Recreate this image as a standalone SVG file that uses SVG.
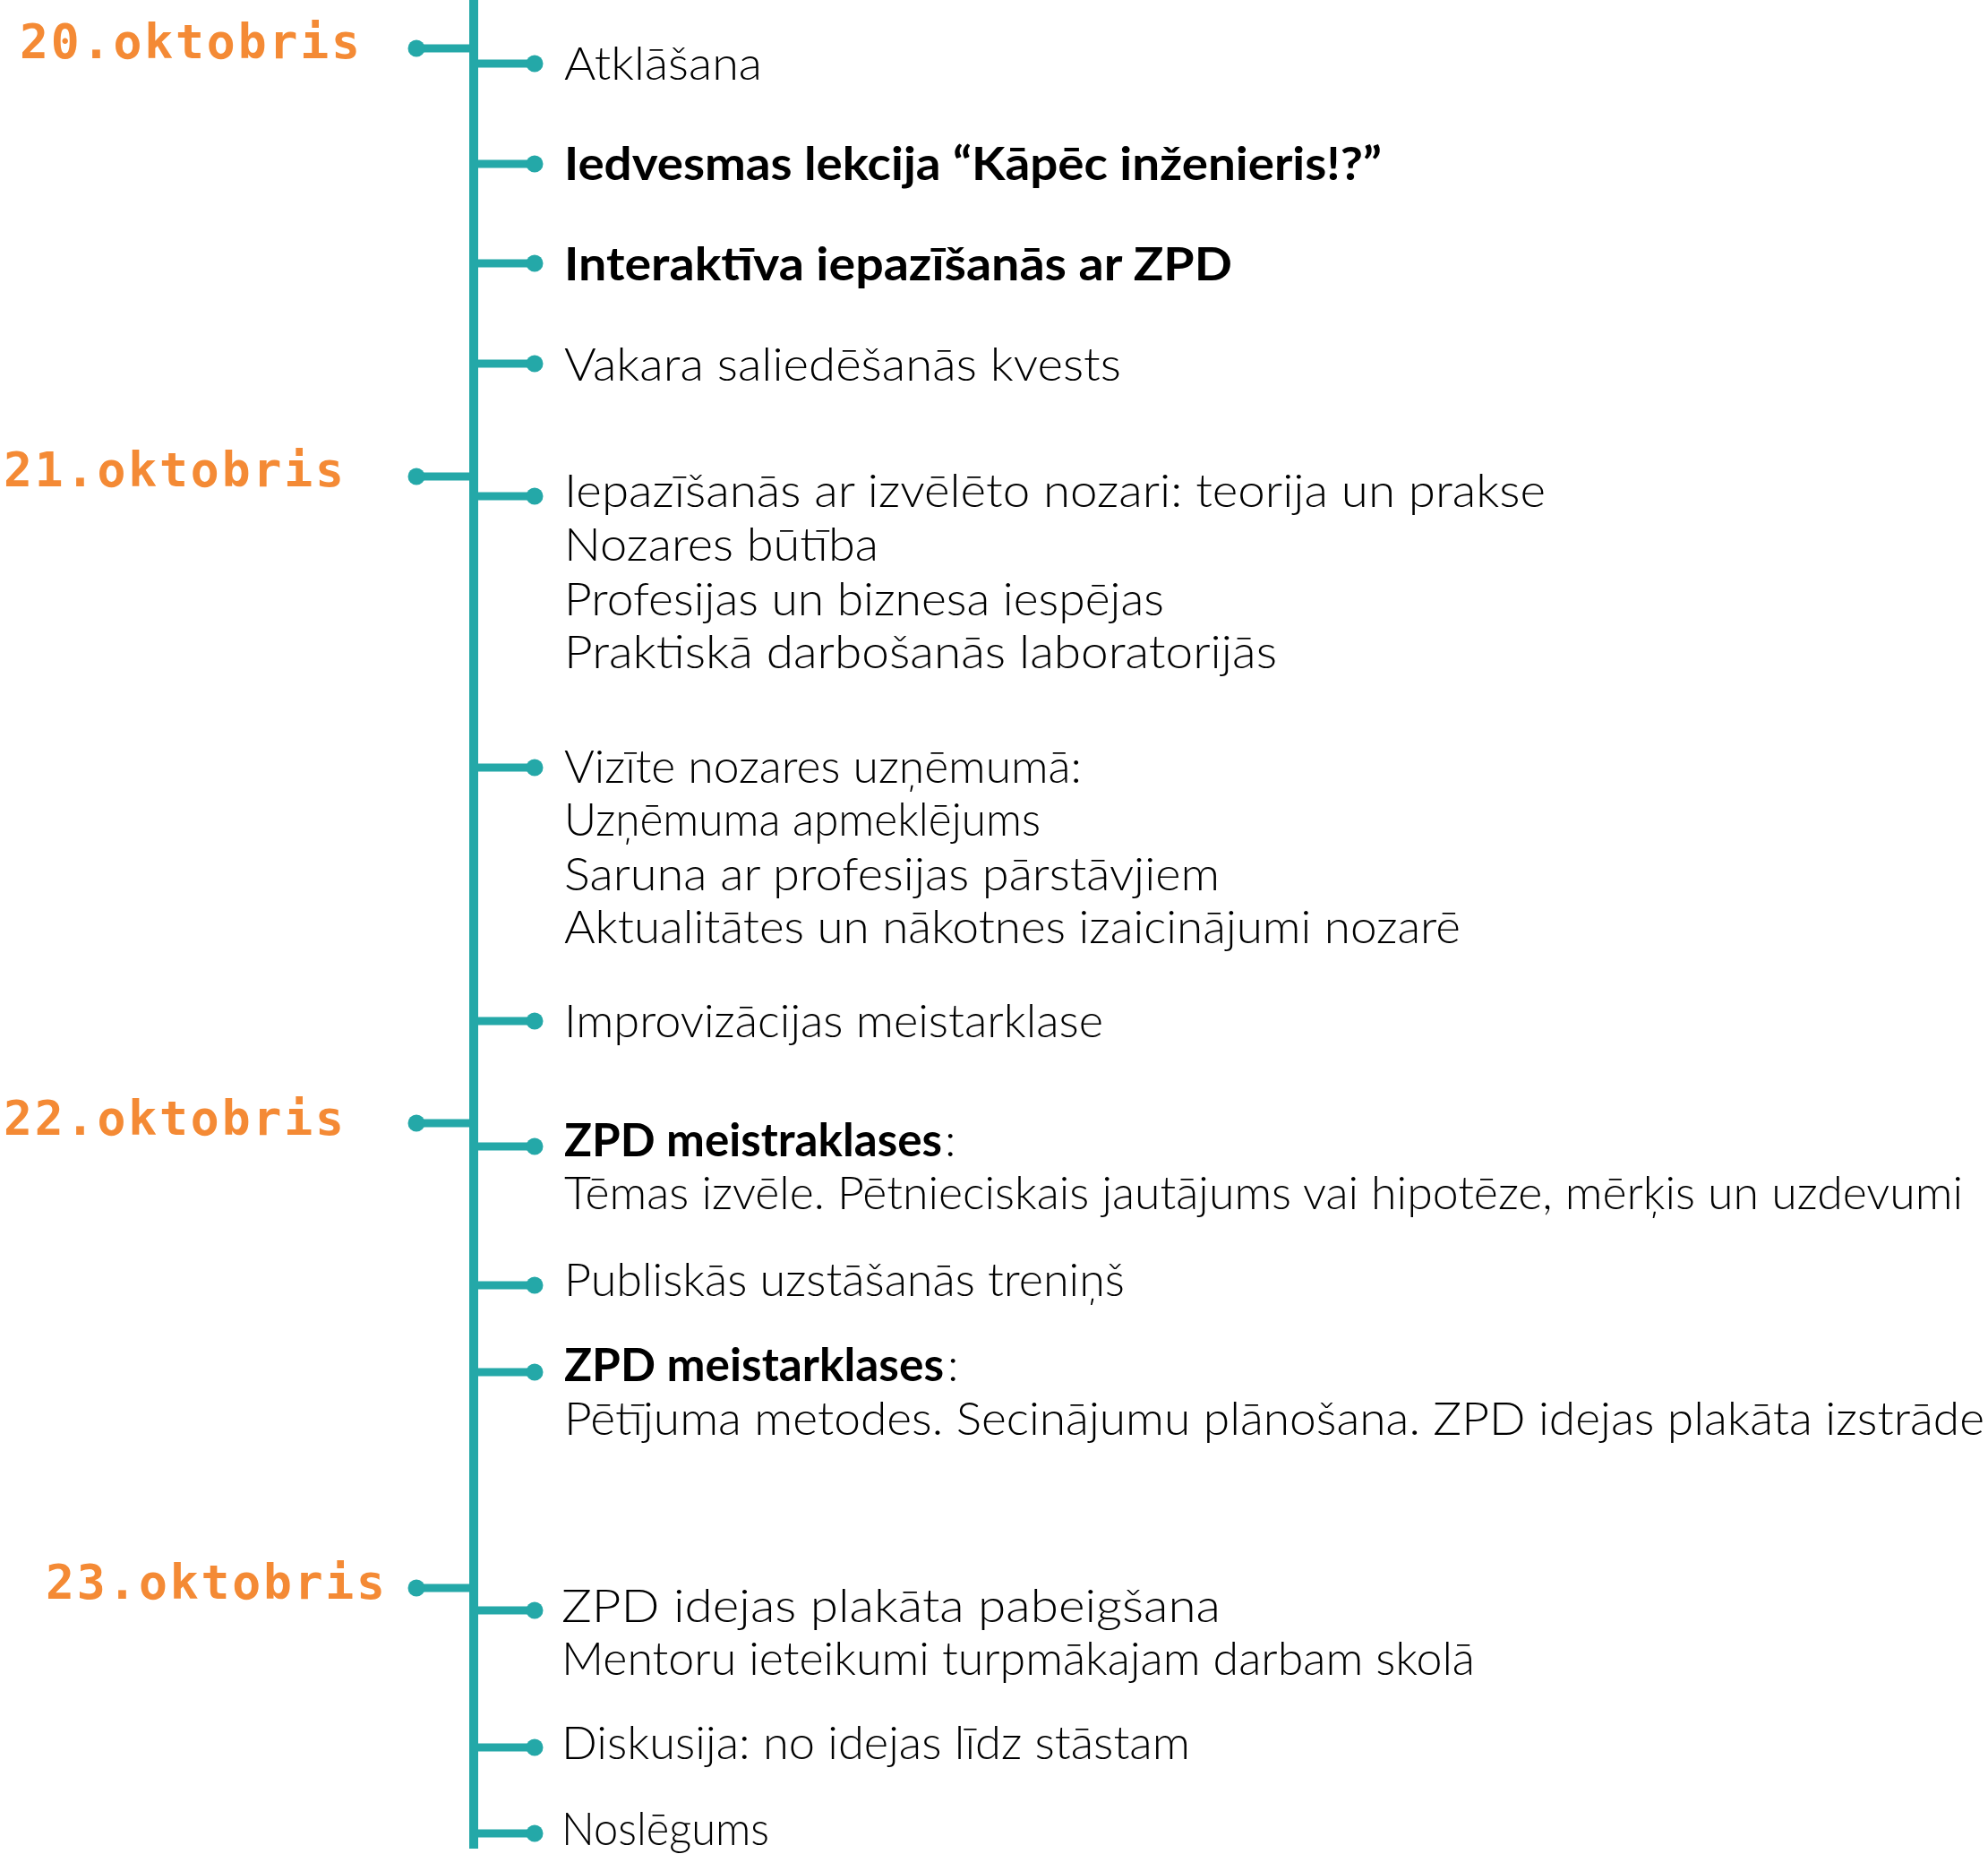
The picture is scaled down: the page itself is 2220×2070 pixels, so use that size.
<svg xmlns="http://www.w3.org/2000/svg" width="2220" height="2070" viewBox="0 0 2220 2070">
<style>
.date{font-family:"DejaVu Sans Mono","Liberation Mono",monospace;font-weight:bold;font-size:53px;fill:#F48A35}
.t{font-family:Lato,"Open Sans","Liberation Sans",sans-serif;font-weight:300;font-size:52px;fill:#000}
.b{font-weight:700}
.bar{stroke:#24A8A8;stroke-width:9;fill:none}
.dot{fill:#24A8A8}
</style>
<rect width="2220" height="2070" fill="#fff"/>
<g id="connectors">
<line class="bar" x1="529" y1="0" x2="529" y2="2064" style="stroke-width:10"/>
<g id="date-bars">
<line class="bar" x1="465" y1="54" x2="528" y2="54"/><circle class="dot" cx="465" cy="54" r="9.5"/>
<line class="bar" x1="465" y1="532" x2="528" y2="532"/><circle class="dot" cx="465" cy="532" r="9.5"/>
<line class="bar" x1="465" y1="1254" x2="528" y2="1254"/><circle class="dot" cx="465" cy="1254" r="9.5"/>
<line class="bar" x1="465" y1="1773" x2="528" y2="1773"/><circle class="dot" cx="465" cy="1773" r="9.5"/>
</g>
<g id="item-bars">
<line class="bar" x1="530" y1="71" x2="597" y2="71"/><circle class="dot" cx="597" cy="71" r="9.5"/>
<line class="bar" x1="530" y1="183" x2="597" y2="183"/><circle class="dot" cx="597" cy="183" r="9.5"/>
<line class="bar" x1="530" y1="294" x2="597" y2="294"/><circle class="dot" cx="597" cy="294" r="9.5"/>
<line class="bar" x1="530" y1="406" x2="597" y2="406"/><circle class="dot" cx="597" cy="406" r="9.5"/>
<line class="bar" x1="530" y1="554" x2="597" y2="554"/><circle class="dot" cx="597" cy="554" r="9.5"/>
<line class="bar" x1="530" y1="857" x2="597" y2="857"/><circle class="dot" cx="597" cy="857" r="9.5"/>
<line class="bar" x1="530" y1="1140" x2="597" y2="1140"/><circle class="dot" cx="597" cy="1140" r="9.5"/>
<line class="bar" x1="530" y1="1280" x2="597" y2="1280"/><circle class="dot" cx="597" cy="1280" r="9.5"/>
<line class="bar" x1="530" y1="1435" x2="597" y2="1435"/><circle class="dot" cx="597" cy="1435" r="9.5"/>
<line class="bar" x1="530" y1="1532" x2="597" y2="1532"/><circle class="dot" cx="597" cy="1532" r="9.5"/>
<line class="bar" x1="530" y1="1798" x2="597" y2="1798"/><circle class="dot" cx="597" cy="1798" r="9.5"/>
<line class="bar" x1="530" y1="1951" x2="597" y2="1951"/><circle class="dot" cx="597" cy="1951" r="9.5"/>
<line class="bar" x1="530" y1="2047" x2="597" y2="2047"/><circle class="dot" cx="597" cy="2047" r="9.5"/>
</g>
</g>
<g id="date-20"><text class="date" x="22" y="65" textLength="380">20.oktobris</text></g>
<g id="date-21"><text class="date" x="4" y="543" textLength="380">21.oktobris</text></g>
<g id="date-22"><text class="date" x="4" y="1267" textLength="380">22.oktobris</text></g>
<g id="date-23"><text class="date" x="51" y="1785" textLength="379">23.oktobris</text></g>
<g id="item-1"><text class="t" x="630" y="89" textLength="221" lengthAdjust="spacingAndGlyphs">Atklāšana</text></g>
<g id="item-2"><text class="t b" x="630" y="201" textLength="913" lengthAdjust="spacingAndGlyphs">Iedvesmas lekcija “Kāpēc inženieris!?”</text></g>
<g id="item-3"><text class="t b" x="630" y="313" textLength="746" lengthAdjust="spacingAndGlyphs">Interaktīva iepazīšanās ar ZPD</text></g>
<g id="item-4"><text class="t" x="630" y="425" textLength="622" lengthAdjust="spacingAndGlyphs">Vakara saliedēšanās kvests</text></g>
<g id="item-5">
<text class="t" x="630" y="566" textLength="1096" lengthAdjust="spacingAndGlyphs">Iepazīšanās ar izvēlēto nozari: teorija un prakse</text>
<text class="t" x="630" y="626" textLength="351" lengthAdjust="spacingAndGlyphs">Nozares būtība</text>
<text class="t" x="630" y="687" textLength="670" lengthAdjust="spacingAndGlyphs">Profesijas un biznesa iespējas</text>
<text class="t" x="630" y="746" textLength="796" lengthAdjust="spacingAndGlyphs">Praktiskā darbošanās laboratorijās</text>
</g>
<g id="item-6">
<text class="t" x="630" y="874" textLength="578" lengthAdjust="spacingAndGlyphs">Vizīte nozares uzņēmumā:</text>
<text class="t" x="630" y="933" textLength="532" lengthAdjust="spacingAndGlyphs">Uzņēmuma apmeklējums</text>
<text class="t" x="630" y="994" textLength="732" lengthAdjust="spacingAndGlyphs">Saruna ar profesijas pārstāvjiem</text>
<text class="t" x="630" y="1053" textLength="1001" lengthAdjust="spacingAndGlyphs">Aktualitātes un nākotnes izaicinājumi nozarē</text>
</g>
<g id="item-7"><text class="t" x="630" y="1158" textLength="602" lengthAdjust="spacingAndGlyphs">Improvizācijas meistarklase</text></g>
<g id="item-8">
<text class="t b" x="630" y="1291" textLength="422" lengthAdjust="spacingAndGlyphs">ZPD meistraklases</text>
<text class="t" x="1055" y="1291">:</text>
<text class="t" x="630" y="1350" textLength="1562" lengthAdjust="spacingAndGlyphs">Tēmas izvēle. Pētnieciskais jautājums vai hipotēze, mērķis un uzdevumi</text>
</g>
<g id="item-9"><text class="t" x="630" y="1447" textLength="626" lengthAdjust="spacingAndGlyphs">Publiskās uzstāšanās treniņš</text></g>
<g id="item-10">
<text class="t b" x="630" y="1542" textLength="424" lengthAdjust="spacingAndGlyphs">ZPD meistarklases</text>
<text class="t" x="1058" y="1542">:</text>
<text class="t" x="630" y="1602" textLength="1586" lengthAdjust="spacingAndGlyphs">Pētījuma metodes. Secinājumu plānošana. ZPD idejas plakāta izstrāde</text>
</g>
<g id="item-11">
<text class="t" x="627" y="1811" textLength="736" lengthAdjust="spacingAndGlyphs">ZPD idejas plakāta pabeigšana</text>
<text class="t" x="627" y="1870" textLength="1020" lengthAdjust="spacingAndGlyphs">Mentoru ieteikumi turpmākajam darbam skolā</text>
</g>
<g id="item-12"><text class="t" x="627" y="1964" textLength="702" lengthAdjust="spacingAndGlyphs">Diskusija: no idejas līdz stāstam</text></g>
<g id="item-13"><text class="t" x="627" y="2060" textLength="232" lengthAdjust="spacingAndGlyphs">Noslēgums</text></g>
</svg>
